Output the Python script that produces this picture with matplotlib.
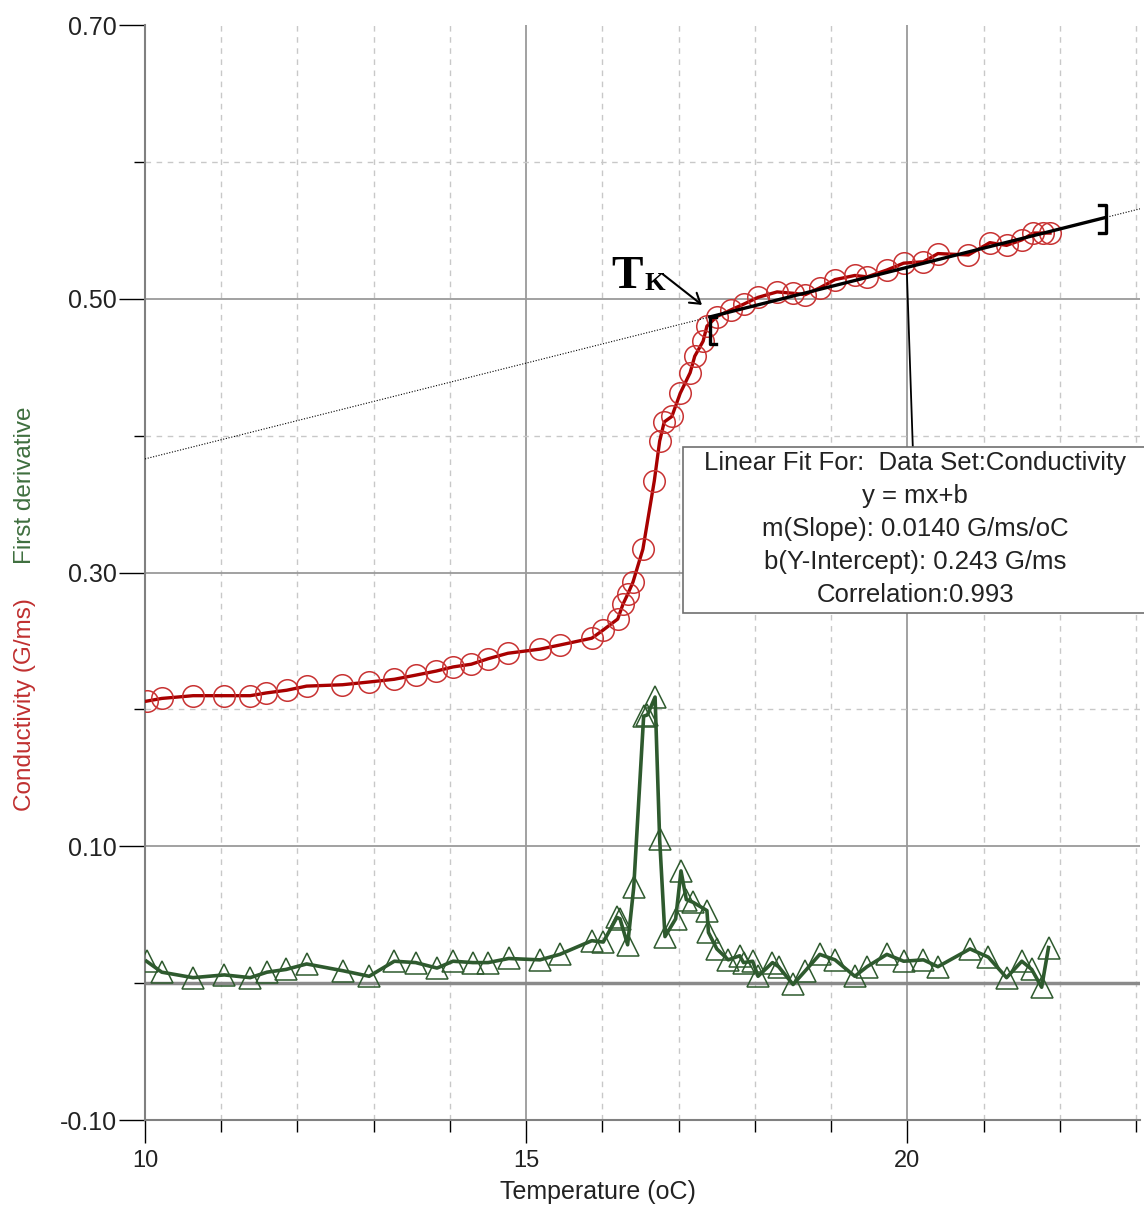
import numpy as np
import matplotlib.pyplot as plt
from matplotlib.patches import Rectangle

plt.rcParams['font.family'] = ['Liberation Sans', 'DejaVu Sans']
plt.rcParams['axes.unicode_minus'] = False

# conductivity data (G/ms) vs temperature (oC)
temp_cond = [10.02, 10.22, 10.63, 11.04, 11.38, 11.59, 11.86, 12.12, 12.59, 12.94,
             13.27, 13.55, 13.82, 14.04, 14.28, 14.50, 14.76, 15.18, 15.44, 15.86,
             16.01, 16.20, 16.27, 16.33, 16.40, 16.53, 16.68, 16.75, 16.81, 16.91,
             17.02, 17.15, 17.21, 17.32, 17.37, 17.50, 17.69, 17.85, 18.04, 18.29,
             18.50, 18.66, 18.85, 19.05, 19.31, 19.47, 19.73, 19.95, 20.21, 20.40,
             20.80, 21.08, 21.30, 21.50, 21.65, 21.78, 21.87]
conductivity = [0.206, 0.208, 0.210, 0.210, 0.210, 0.212, 0.214, 0.217, 0.218, 0.220,
                0.222, 0.225, 0.228, 0.231, 0.233, 0.237, 0.241, 0.244, 0.247, 0.252,
                0.258, 0.266, 0.277, 0.284, 0.293, 0.317, 0.367, 0.396, 0.410, 0.414,
                0.431, 0.446, 0.458, 0.469, 0.480, 0.487, 0.492, 0.496, 0.501, 0.505,
                0.504, 0.503, 0.508, 0.514, 0.517, 0.516, 0.521, 0.526, 0.527, 0.533,
                0.532, 0.541, 0.539, 0.543, 0.548, 0.548, 0.548]

# first derivative
temp_deriv = [10.02, 10.22, 10.63, 11.04, 11.38, 11.60, 11.85, 12.12, 12.60, 12.94,
              13.27, 13.55, 13.83, 14.04, 14.30, 14.50, 14.77, 15.18, 15.44, 15.86,
              16.01, 16.19, 16.23, 16.33, 16.41, 16.54, 16.59, 16.69, 16.75, 16.82,
              16.96, 17.03, 17.10, 17.19, 17.37, 17.39, 17.50, 17.65, 17.80, 17.85,
              17.97, 18.04, 18.23, 18.31, 18.50, 18.66, 18.85, 19.05, 19.31, 19.47,
              19.73, 19.95, 20.21, 20.40, 20.82, 21.06, 21.30, 21.50, 21.63, 21.76,
              21.85]
first_deriv = [0.016, 0.008, 0.004, 0.006, 0.004, 0.008, 0.010, 0.014, 0.009, 0.005,
               0.016, 0.015, 0.011, 0.016, 0.015, 0.015, 0.018, 0.017, 0.021, 0.031,
               0.030, 0.048, 0.047, 0.028, 0.070, 0.195, 0.196, 0.209, 0.105, 0.034,
               0.047, 0.082, 0.061, 0.059, 0.053, 0.037, 0.025, 0.017, 0.020, 0.015,
               0.016, 0.005, 0.015, 0.012, -0.001, 0.009, 0.021, 0.017, 0.005, 0.012,
               0.021, 0.016, 0.017, 0.012, 0.025, 0.019, 0.004, 0.016, 0.010, -0.003,
               0.026]

# linear fit
slope = 0.0140
intercept = 0.243
fit_range = [17.41, 22.60]
fit_text = ["Linear Fit For:  Data Set:Conductivity", "y = mx+b",
            "m(Slope): 0.0140 G/ms/oC", "b(Y-Intercept): 0.243 G/ms",
            "Correlation:0.993"]

x_major = [10, 15, 20]
x_minor = [11, 12, 13, 14, 16, 17, 18, 19, 21, 22, 23]
y_major = [-0.10, 0.10, 0.30, 0.50, 0.70]
y_minor = [0.0, 0.2, 0.4, 0.6]

red_line = '#a80000'
red_mark = '#c83232'
green = '#2e5a2e'

fig = plt.figure(figsize=(11.44, 12.05), dpi=100)
ax = fig.add_axes([145 / 1144, 1 - 1120 / 1205, 995 / 1144, 1095 / 1205])
ax.set_xlim(10, 23.05)
ax.set_ylim(-0.10, 0.70)

ax.set_xticks(x_major)
ax.set_xticks(x_minor, minor=True)
ax.set_yticks(y_major)
ax.set_yticks(y_minor, minor=True)
ax.yaxis.set_major_formatter(plt.FormatStrFormatter('%.2f'))

# grid drawn by hand (no line along the top)
for v in [15, 20]:
    ax.axvline(v, color='#9a9a9a', lw=1.3, zorder=0)
for v in x_minor:
    ax.axvline(v, color='#c8c8c8', lw=1.0, ls=(0, (4, 4)), zorder=0)
for v in [0.10, 0.30, 0.50]:
    ax.axhline(v, color='#9a9a9a', lw=1.3, zorder=0)
for v in [0.2, 0.4, 0.6]:
    ax.axhline(v, color='#c8c8c8', lw=1.0, ls=(0, (4, 4)), zorder=0)
ax.axhline(0, color='#8a8a8a', lw=2.5, zorder=1)

for s in ['top', 'right']:
    ax.spines[s].set_visible(False)
for s in ['left', 'bottom']:
    ax.spines[s].set_color('#808080')
    ax.spines[s].set_linewidth(1.5)

ax.tick_params(axis='y', which='major', length=18.5, width=1, color='black', pad=1.5,
               labelsize=18, labelcolor='#222222')
ax.tick_params(axis='y', which='minor', length=8, width=1, color='black')
ax.tick_params(axis='x', which='major', length=16.5, width=1, color='black', pad=5,
               labelsize=17, labelcolor='#222222')
ax.tick_params(axis='x', which='minor', length=8.5, width=1, color='black')

ax.set_xlabel('Temperature (oC)', fontsize=18, color='#222222')
ax.xaxis.set_label_coords(0.455, -0.055)

# series
ax.plot(temp_cond, conductivity, color=red_line, lw=2.4, zorder=3)
ax.plot(temp_cond, conductivity, ls='none', marker='o', ms=15.5, mfc='none',
        mec=red_mark, mew=1.1, zorder=4)
ax.plot(temp_deriv, first_deriv, color=green, lw=2.6, zorder=3)
ax.plot(temp_deriv, first_deriv, ls='none', marker='^', ms=16, mfc='none',
        mec=green, mew=1.1, zorder=4)

# fit line, dotted extension and brackets
xx = np.array([10, 23.05])
ax.plot(xx, intercept + slope * xx, color='black', lw=0.8, ls=(0, (1, 1.5)), zorder=5)
fx = np.array(fit_range)
ax.plot(fx, intercept + slope * fx, color='black', lw=2.4, zorder=6)
y0 = intercept + slope * fit_range[0]
y1 = intercept + slope * fit_range[1]
ax.plot([fit_range[0] + 0.08, fit_range[0], fit_range[0], fit_range[0] + 0.08],
        [y0, y0, y0 - 0.02, y0 - 0.02], color='black', lw=2.4, zorder=6)
ax.plot([fit_range[1] - 0.09, fit_range[1], fit_range[1], fit_range[1] - 0.09],
        [y1 + 0.009, y1 + 0.009, y1 - 0.011, y1 - 0.011], color='black', lw=2.4, zorder=6)

# T_K label with arrow
ax.text(16.11, 0.508, 'T', family='Liberation Serif', weight='bold', fontsize=34,
        va='baseline', ha='left', zorder=7)
ax.text(16.545, 0.5065, 'K', family='Liberation Serif', weight='bold', fontsize=19,
        va='baseline', ha='left', zorder=7)
ax.annotate('', xy=(17.305, 0.4955), xytext=(16.79, 0.518),
            arrowprops=dict(arrowstyle='->,head_length=0.7,head_width=0.45',
                            lw=1.5, color='black', shrinkA=0, shrinkB=0), zorder=7)

# fit annotation box
ax.plot([19.99, 20.07], [intercept + slope * 19.99, 0.392], color='black', lw=1.3, zorder=6)
ax.add_patch(Rectangle((17.056, 0.2706), 6.2, 0.1213, facecolor='white',
                       edgecolor='#707070', lw=1.2, clip_on=False, zorder=8))
for i, line in enumerate(fit_text):
    ax.text(20.10, 0.3802 - i * 0.0241, line, ha='center', va='center', fontsize=18.5,
            color='#222222', zorder=9, clip_on=False)

# two coloured y label
fig.text(0.022, 0.415, 'Conductivity (G/ms)', rotation=90, color='#c03030',
         fontsize=17.5, ha='center', va='center')
fig.text(0.022, 0.597, 'First derivative', rotation=90, color='#3f6f3f',
         fontsize=17.5, ha='center', va='center')

fig.savefig('out.png', dpi=100)
